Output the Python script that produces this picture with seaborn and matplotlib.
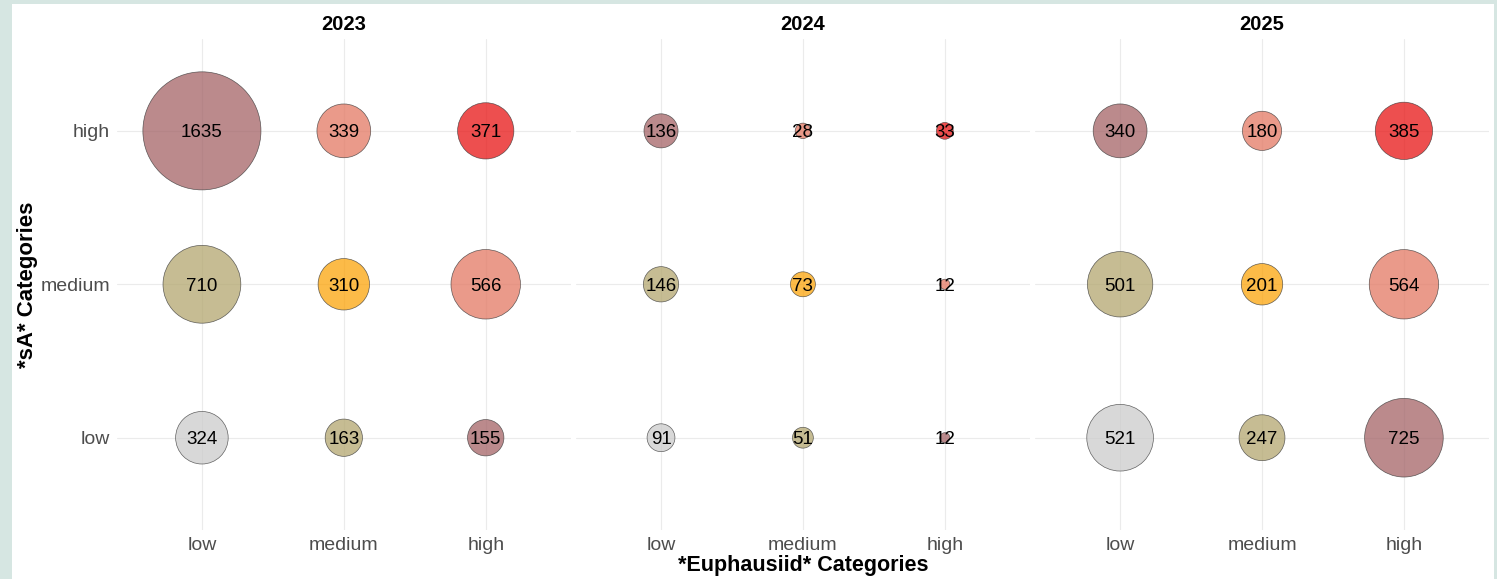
import pandas as pd
import matplotlib.pyplot as plt
import seaborn as sns

# categorias
levels = ['low', 'medium', 'high']
years = ['2023', '2024', '2025']

# conteos por año: filas = sA (low, medium, high), columnas = Euphausiid (low, medium, high)
counts_2023 = [[324, 163, 155],
               [710, 310, 566],
               [1635, 339, 371]]
counts_2024 = [[91, 51, 12],
               [146, 73, 12],
               [136, 28, 33]]
counts_2025 = [[521, 247, 725],
               [501, 201, 564],
               [340, 180, 385]]

# color por combinacion (euph, sA)
combo_colors = {
    'low-low': '#CCCCCC', 'medium-low': '#B3A66F', 'high-low': '#A46366',
    'low-medium': '#B3A66F', 'medium-medium': '#FCA40A', 'high-medium': '#E37863',
    'low-high': '#A46366', 'medium-high': '#E37863', 'high-high': '#E81414',
}

rows = []
for year, mat in zip(years, [counts_2023, counts_2024, counts_2025]):
    for i, sa in enumerate(levels):
        for j, eu in enumerate(levels):
            rows.append({'year': year, 'euph': eu, 'sA': sa,
                         'x': j, 'y': i, 'n': mat[i][j],
                         'combo': f'{eu}-{sa}'})
df = pd.DataFrame(rows)

sns.set_theme(style="white")
plt.rcParams['font.family'] = ['Liberation Sans', 'DejaVu Sans']

nmin, nmax = df['n'].min(), df['n'].max()
k = 4.42  # area (pt^2) por unidad
g = sns.relplot(data=df, x='x', y='y', col='year', hue='combo', size='n',
                palette=combo_colors, sizes=(k * nmin, k * nmax), size_norm=(nmin, nmax),
                alpha=0.75, edgecolor='#333333', linewidth=0.5, legend=False,
                height=5.79, aspect=14.97 / 5.79 / 3, kind='scatter')
fig = g.figure
fig.set_size_inches(14.97, 5.79)
fig.patch.set_facecolor('#D6E6E2')
fig.patches.append(plt.Rectangle((12 / 1497, 0), (1494 - 12) / 1497, 1 - 4 / 579,
                                 transform=fig.transFigure, facecolor='white',
                                 edgecolor='none', zorder=-10))
fig.subplots_adjust(left=0.078, right=0.9947, top=0.933, bottom=0.085, wspace=0.011)

for ax, year in zip(g.axes.flat, years):
    sub = df[df['year'] == year]
    for _, r in sub.iterrows():
        ax.text(r['x'], r['y'], str(r['n']), ha='center', va='center_baseline',
                fontsize=13.5, color='black', zorder=5)
    ax.set_xlim(-0.6, 2.6)
    ax.set_ylim(-0.6, 2.6)
    ax.set_xticks(range(3))
    ax.set_xticklabels(levels)
    ax.set_yticks(range(3))
    ax.set_yticklabels(levels)
    ax.tick_params(length=0, labelsize=14, labelcolor='#4D4D4D', pad=5)
    ax.grid(True, color='#EBEBEB', linewidth=0.8)
    ax.set_axisbelow(True)
    ax.set_facecolor('none')
    for s in ax.spines.values():
        s.set_visible(False)
    ax.set_title(year, fontsize=14.5, fontweight='bold', color='black', pad=6)
    ax.set_xlabel('')
    ax.set_ylabel('')

for ax in g.axes.flat[1:]:
    ax.tick_params(labelleft=False)

fig.text(0.5364, 0.0225, '*Euphausiid* Categories', ha='center', va='center',
         fontsize=15.5, fontweight='bold', color='black')
fig.text(0.0187, 0.508, '*sA* Categories', ha='center', va='center',
         rotation=90, fontsize=16, fontweight='bold', color='black')

plt.savefig('out.png', dpi=100, facecolor=fig.get_facecolor())
plt.close()
